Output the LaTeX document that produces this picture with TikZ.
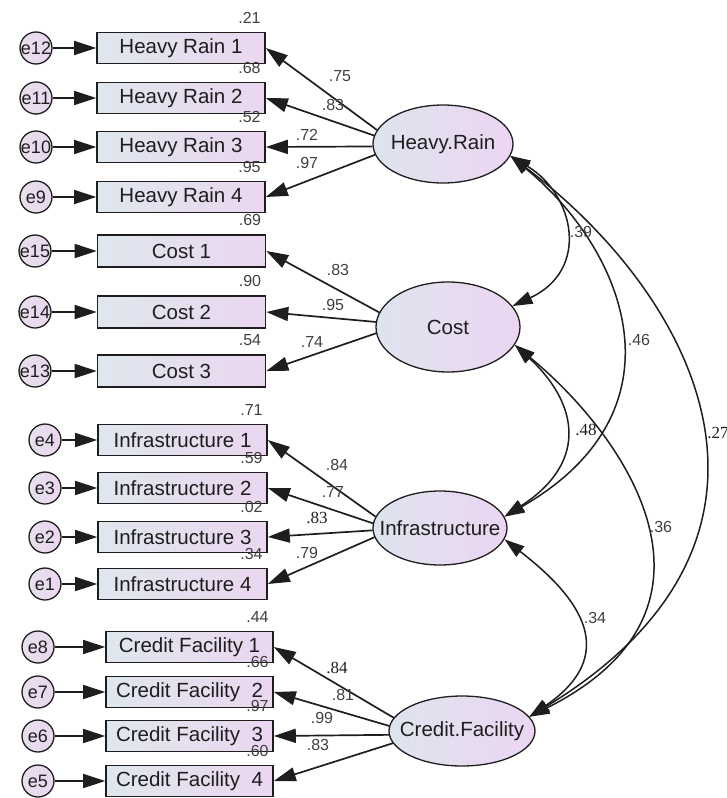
\documentclass[tikz,border=0pt]{standalone}
\usepackage{fontspec}
\setmainfont{Liberation Sans}
\newfontfamily\numserif{Liberation Serif}
\usetikzlibrary{arrows.meta,shapes.geometric}

\definecolor{obsleft}{RGB}{223,231,237}
\definecolor{obsright}{RGB}{235,214,240}
\definecolor{latleft}{RGB}{222,228,238}
\definecolor{latright}{RGB}{236,213,242}
\definecolor{errleft}{RGB}{230,224,236}
\definecolor{errright}{RGB}{234,214,240}
\definecolor{ink}{RGB}{30,30,30}

\newcommand{\nowd}[1]{\makebox[0pt]{#1}}

\tikzset{
  obs/.style={draw=ink, line width=1.6pt, rectangle, minimum width=168pt,
    minimum height=31pt, inner sep=0pt, left color=obsleft, right color=obsright,
    text=ink, font=\fontsize{20.5}{24}\selectfont},
  err/.style={draw=ink, line width=1.3pt, circle, minimum size=32pt, inner sep=0pt,
    left color=errleft, right color=errright, text=ink, font=\fontsize{18}{22}\selectfont},
  lat/.style={draw=ink, line width=1.3pt, ellipse, inner sep=0pt,
    left color=latleft, right color=latright, text=ink, font=\fontsize{20.5}{24}\selectfont},
  num/.style={inner sep=0pt, text=ink!85, font=\fontsize{16}{18}\selectfont},
  snum/.style={inner sep=0pt, text=ink, font=\fontsize{17}{19}\selectfont\numserif},
  load/.style={draw=ink, line width=1.7pt, -{Triangle[length=22pt,width=14pt]}},
  cov/.style={draw=ink, line width=1.5pt,
    {Triangle[length=20pt,width=13pt]}-{Triangle[length=20pt,width=13pt]}},
}

\begin{document}
\begin{tikzpicture}[x=1pt, y=-1pt]
  \useasboundingbox (0,0) rectangle (727,798);

  % latent factors
  \node[lat, minimum width=140pt, minimum height=78pt] (rain) at (443,144) {\nowd{Heavy.Rain}};
  \node[lat, minimum width=144pt, minimum height=90pt] (cost) at (448,327) {\nowd{Cost}};
  \node[lat, minimum width=134pt, minimum height=74pt] (infra) at (440,528) {\nowd{Infrastructure}};
  \node[lat, minimum width=146pt, minimum height=70pt] (credit) at (462,731) {\nowd{Credit.Facility}};

  % heavy rain items
  \foreach \i/\y/\e/\r/\a/\lx/\ly/\v in {1/48/12/.21/168/340/76/.75, 2/98/11/.68/173/333/105/.83,
      3/147/10/.52/182/307/135/.72, 4/197/9/.95/189/307/163/.97} {
    \node[obs] (hr\i) at (181,\y) {Heavy Rain \i};
    \node[err] (e\e) at (36,\y) {\nowd{e\e}};
    \draw[load] (e\e) -- (hr\i);
    \node[num, anchor=south east] (rhr\i) at ([xshift=-5pt,yshift=8pt]hr\i.north east) {\r};
    \draw[load] (rain.\a) -- (hr\i.east);
    \node[num] (lhr\i) at (\lx,\ly) {\v};
  }

  % cost items
  \foreach \i/\y/\e/\r/\a/\lx/\ly/\v in {1/251/15/.69/168/338/270/.83, 2/312/14/.90/176/333/305/.95,
      3/371/13/.54/185/312/342/.74} {
    \node[obs, minimum height=32pt] (co\i) at (181.5,\y) {Cost \i};
    \node[err] (e\e) at (35,\y) {\nowd{e\e}};
    \draw[load] (e\e) -- (co\i);
    \node[num, anchor=south east] (rco\i) at ([xshift=-5pt,yshift=8pt]co\i.north east) {\r};
    \draw[load] (cost.\a) -- (co\i.east);
    \node[num] (lco\i) at (\lx,\ly) {\v};
  }

  % infrastructure items
  \foreach \i/\y/\e/\r/\a/\lx/\ly/\v/\s in {1/440/4/.71/170/337/465/.84/num, 2/488/3/.59/176/333/492/.77/num,
      3/537/2/.02/182/317/518/.83/snum, 4/584/1/.34/188/307/553/.79/num} {
    \node[obs, minimum width=169pt] (in\i) at (182.5,\y) {Infrastructure \i};
    \node[err] (e\e) at (45,\y) {\nowd{e\e}};
    \draw[load] (e\e) -- (in\i);
    \node[num, anchor=south east] (rin\i) at ([xshift=-5pt,yshift=8pt]in\i.north east) {\r};
    \draw[load] (infra.\a) -- (in\i.east);
    \node[\s] (lin\i) at (\lx,\ly) {\v};
  }

  % credit facility items
  \foreach \i/\y/\e/\r/\a/\lx/\ly/\v/\s/\t in {1/647/8/.44/169/337/668/.84/snum/{Credit Facility 1},
      2/692/7/.66/176/343/695/.81/num/{Credit Facility\ \ 2},
      3/736/6/.97/183/322/718/.99/num/{Credit Facility\ \ 3},
      4/781/5/.60/190/318/745/.83/num/{Credit Facility\ \ 4}} {
    \node[obs, minimum width=167pt] (cf\i) at (189.5,\y) {\t};
    \node[err] (e\e) at (38,\y) {\nowd{e\e}};
    \draw[load] (e\e) -- (cf\i);
    \node[num, anchor=south east] (rcf\i) at ([xshift=-5pt,yshift=8pt]cf\i.north east) {\r};
    \draw[load] (credit.\a) -- (cf\i.east);
    \node[\s] (lcf\i) at (\lx,\ly) {\v};
  }

  % covariances
  \draw[cov] (rain.-10) .. controls (575,195) and (590,270) .. (cost.18);
  \draw[cov] (rain.-10) .. controls (625,250) and (690,410) .. (infra.10);
  \draw[cov] (rain.-10) .. controls (700,300) and (820,540) .. (credit.12);
  \draw[cov] (cost.-15) .. controls (575,400) and (592,460) .. (infra.10);
  \draw[cov] (cost.-15) .. controls (630,440) and (742,610) .. (credit.12);
  \draw[cov] (infra.-10) .. controls (570,590) and (627,650) .. (credit.12);

  \node[num] (c39) at (581,232) {.39};
  \node[num] (c46) at (639,340) {.46};
  \node[snum] (c27) at (718,433) {.27};
  \node[snum] (c48) at (586,430) {.48};
  \node[num] (c36) at (661,527) {.36};
  \node[num] (c34) at (595,618) {.34};
\end{tikzpicture}
\end{document}
